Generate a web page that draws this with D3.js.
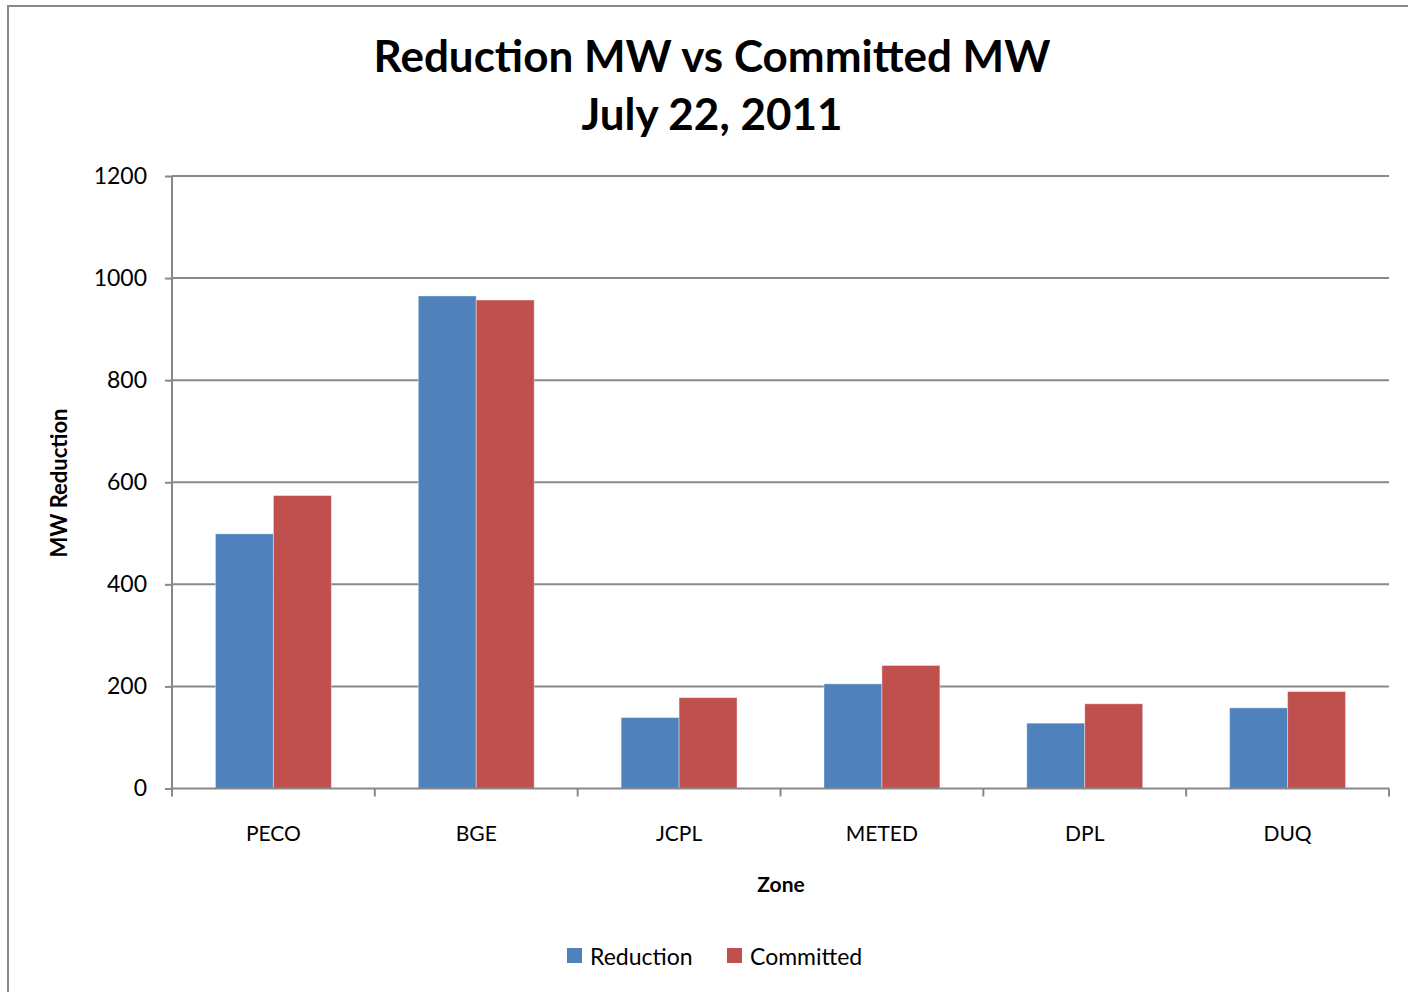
<!DOCTYPE html>
<html>
<head>
<meta charset="utf-8">
<script src="https://cdn.jsdelivr.net/npm/d3@7/dist/d3.min.js"></script>
<style>
  body { margin: 0; background: #fff; }
  svg { display: block; font-family: Lato, "Open Sans", sans-serif; }
</style>
</head>
<body>
<svg width="1408" height="992"></svg>
<script>
var zones = ['PECO', 'BGE', 'JCPL', 'METED', 'DPL', 'DUQ'];
var seriesNames = ['Reduction', 'Committed'];
var reduction = [499, 965, 139, 205, 128, 158];
var committed = [574, 957, 178, 241, 166, 190];
var yTicks = [0, 200, 400, 600, 800, 1000, 1200];
var colors = ['#4F81BD', '#C0504D'];

var svg = d3.select('svg');
var plotLeft = 172, plotRight = 1389, plotTop = 176, plotBottom = 788.5;

// outer chart frame
svg.append('rect')
    .attr('x', 8).attr('y', 6)
    .attr('width', 1420).attr('height', 1000)
    .attr('fill', 'none')
    .attr('stroke', '#888').attr('stroke-width', 2);

var x = d3.scaleBand().domain(zones).range([plotLeft, plotRight]);
var x1 = d3.scaleBand().domain(seriesNames).range([0, x.bandwidth()]).paddingOuter(0.75).paddingInner(0);
var y = d3.scaleLinear().domain([0, 1200]).range([plotBottom, plotTop]);

// gridlines
svg.append('g').selectAll('line')
    .data(yTicks.filter(function (d) { return d > 0; }))
    .join('line')
    .attr('x1', plotLeft).attr('x2', plotRight)
    .attr('y1', function (d) { return y(d); })
    .attr('y2', function (d) { return y(d); })
    .attr('stroke', '#888').attr('stroke-width', 2);

// bars
var groups = svg.append('g').selectAll('g')
    .data(zones)
    .join('g')
    .attr('transform', function (d) { return 'translate(' + x(d) + ',0)'; });

groups.selectAll('rect')
    .data(function (d, i) {
        return [
            {s: 'Reduction', v: reduction[i], c: colors[0]},
            {s: 'Committed', v: committed[i], c: colors[1]}
        ];
    })
    .join('rect')
    .attr('x', function (d) { return x1(d.s); })
    .attr('width', x1.bandwidth())
    .attr('y', function (d) { return y(d.v); })
    .attr('height', function (d) { return plotBottom - y(d.v); })
    .attr('fill', function (d) { return d.c; })
    .attr('stroke', '#fff').attr('stroke-opacity', 0.4).attr('stroke-width', 1);

// y axis
var yAxis = svg.append('g')
    .attr('transform', 'translate(' + plotLeft + ',0)')
    .call(d3.axisLeft(y).tickValues(yTicks).tickFormat(d3.format('d')).tickSize(7).tickPadding(18));
yAxis.select('.domain').attr('d', 'M0,' + plotTop + 'V' + plotBottom);
yAxis.selectAll('path, line').attr('stroke', '#888').attr('stroke-width', 2);
yAxis.selectAll('text').attr('font-size', 23).attr('fill', '#000')
    .attr('font-family', 'Lato, sans-serif');

// x axis
var xAxis = svg.append('g')
    .attr('transform', 'translate(0,' + plotBottom + ')');
xAxis.append('line')
    .attr('x1', plotLeft).attr('x2', plotRight)
    .attr('stroke', '#888').attr('stroke-width', 2);
var bounds = zones.map(function (d) { return x(d); }).concat([plotRight]);
xAxis.selectAll('line.tk')
    .data(bounds)
    .join('line')
    .attr('class', 'tk')
    .attr('x1', function (d) { return d; }).attr('x2', function (d) { return d; })
    .attr('y1', 0).attr('y2', 8)
    .attr('stroke', '#888').attr('stroke-width', 2);
xAxis.selectAll('text')
    .data(zones)
    .join('text')
    .attr('x', function (d) { return x(d) + x.bandwidth() / 2; })
    .attr('y', 52)
    .attr('text-anchor', 'middle')
    .attr('font-size', 21)
    .text(function (d) { return d; });

// titles
var title = svg.append('text')
    .attr('x', 712).attr('text-anchor', 'middle')
    .attr('font-weight', 'bold').attr('font-size', 44);
title.append('tspan').attr('x', 712).attr('y', 72).text('Reduction MW vs Committed MW');
title.append('tspan').attr('x', 712).attr('y', 130).text('July 22, 2011');

svg.append('text')
    .attr('x', 781).attr('y', 892)
    .attr('text-anchor', 'middle')
    .attr('font-weight', 'bold').attr('font-size', 21)
    .text('Zone');

svg.append('text')
    .attr('transform', 'translate(67,483) rotate(-90)')
    .attr('text-anchor', 'middle')
    .attr('font-weight', 'bold').attr('font-size', 22)
    .text('MW Reduction');

// legend
var legendX = [567, 727];
var legend = svg.append('g').selectAll('g')
    .data(seriesNames)
    .join('g')
    .attr('transform', function (d, i) { return 'translate(' + legendX[i] + ',948)'; });
legend.append('rect')
    .attr('width', 15).attr('height', 15)
    .attr('fill', function (d, i) { return colors[i]; });
legend.append('text')
    .attr('x', 23).attr('y', 17)
    .attr('font-size', 23)
    .text(function (d) { return d; });
</script>
</body>
</html>
